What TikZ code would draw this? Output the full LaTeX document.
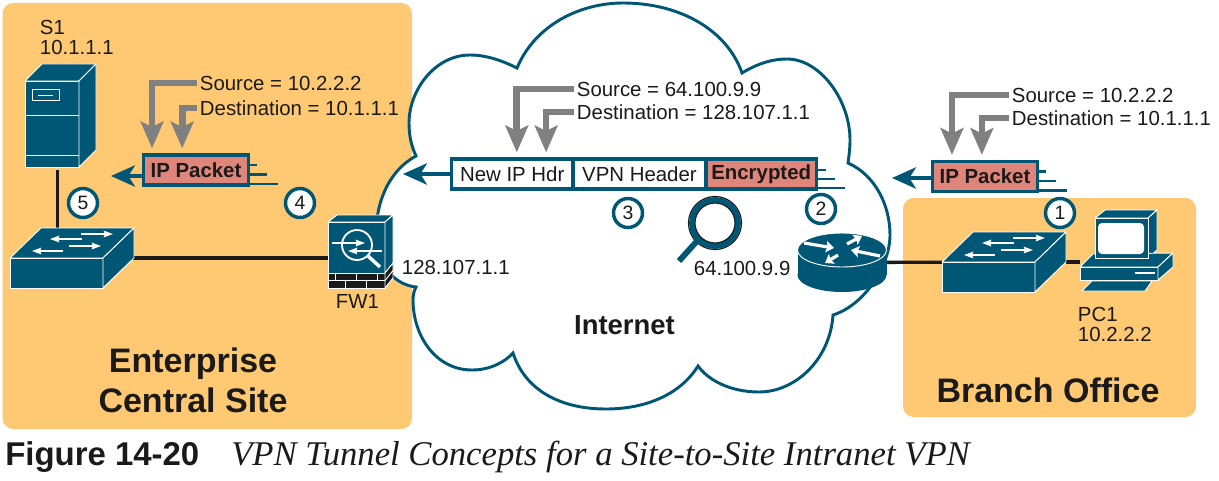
\documentclass[tikz,border=0pt]{standalone}
\usepackage{fontspec}
\setmainfont{Liberation Sans}
\newfontfamily\capfont{Liberation Serif}
\usepackage{tikz}
\usetikzlibrary{arrows.meta,positioning}
\definecolor{sitefill}{HTML}{FFC973}
\definecolor{devblue}{HTML}{005675}
\definecolor{pktred}{HTML}{DF8579}
\definecolor{ptrgray}{HTML}{808080}
\definecolor{ink}{HTML}{1A1A1A}
\tikzstyle{site}=[
	fill=sitefill,
	rounded corners=8pt]
\tikzstyle{device}=[
	rectangle,
	inner sep=0,
	outer sep=0]
\tikzstyle{face}=[
	fill=devblue,
	draw=white,
	line width=0.7pt,
	line join=round]
\tikzstyle{lbl}=[
	text=ink,
	inner sep=2pt,
	align=left,
	font=\fontsize{15.3}{15}\selectfont]
\tikzstyle{title}=[
	text=ink,
	inner sep=0,
	align=center,
	font=\bfseries\fontsize{25.5}{30}\selectfont]
\tikzstyle{cell}=[
	rectangle,
	draw=devblue,
	fill=white,
	line width=2.5pt,
	inner sep=0,
	outer sep=0,
	minimum height=22.5pt,
	text=ink,
	font=\fontsize{15.3}{15}\selectfont]
\tikzstyle{packet}=[
	cell,
	fill=pktred,
	font=\bfseries\fontsize{15.3}{15}\selectfont]
\tikzstyle{stepnum}=[
	circle,
	draw=devblue,
	fill=white,
	line width=2.6pt,
	inner sep=0,
	minimum size=21.75pt,
	text=ink,
	font=\fontsize{14.5}{14}\selectfont]
\tikzstyle{tail}=[
	draw=devblue,
	line width=2.1pt]
\tikzstyle{flow}=[
	draw=devblue,
	line width=2.4pt,
	-{Stealth[length=18pt,width=16pt,inset=5pt]}]
\tikzstyle{pointer}=[
	draw=ptrgray,
	line width=5pt,
	shorten >=5pt,
	-{Stealth[length=20pt,width=17pt,inset=4pt]}]
\tikzstyle{link}=[
	draw=ink,
	line width=2.5pt]
\tikzstyle{whitearrow}=[
	draw=white,
	line width=1.1pt,
	-{Stealth[length=7pt,width=5pt,inset=1pt]}]
\tikzstyle{fatarrow}=[
	draw=white,
	line width=2.4pt,
	-{Stealth[length=6pt,width=8.5pt,inset=1pt]}]
\tikzset{pics/switchicon/.style={code={
	\draw[face] (0,0) -- (31,-30) -- (124,-30) -- (93,0) -- cycle;
	\draw[face] (0,0) rectangle (93,30);
	\draw[face] (93,0) -- (124,-30) -- (124,0) -- (93,30) -- cycle;
	\draw[whitearrow] (72,-19) -- (40,-19);
	\draw[whitearrow] (71,-24) -- (103,-24);
	\draw[whitearrow] (59,-12) -- (91,-12);
	\draw[whitearrow] (53,-7) -- (22,-7);
}}}

\begin{document}
\begin{tikzpicture}[x=0.75pt,y=-0.75pt,>=latex]
	\useasboundingbox (0,0) rectangle (1219,481);
	\fill[site] (2.5,3) rectangle (412,429);
	\fill[site] (903,198) rectangle (1196,417);
	\draw[draw=devblue,fill=white,line width=2.2pt] (517,68)
		.. controls (535,25) and (580,3) .. (623,3)
		.. controls (680,3) and (727,30) .. (742,73)
		.. controls (760,62) and (775,59) .. (787,59)
		.. controls (820,59) and (850,100) .. (850,140)
		.. controls (850,148) and (849,156) .. (848,163)
		.. controls (875,175) and (890,205) .. (890,235)
		.. controls (890,265) and (865,305) .. (833,315)
		.. controls (830,360) and (795,392) .. (759,392)
		.. controls (730,392) and (708,380) .. (698,366)
		.. controls (680,395) and (645,409) .. (606,409)
		.. controls (560,409) and (525,390) .. (513,353)
		.. controls (505,362) and (490,370) .. (472,370)
		.. controls (435,370) and (413,335) .. (413,300)
		.. controls (413,295) and (414,291) .. (416,287)
		.. controls (395,285) and (376,265) .. (376,235)
		.. controls (376,200) and (390,170) .. (416,156)
		.. controls (411,145) and (409,135) .. (409,123)
		.. controls (409,90) and (435,55) .. (470,55)
		.. controls (488,55) and (505,62) .. (517,68) -- cycle;
	\node[device,minimum width=48.75pt,minimum height=79.5pt] (s1) at (57.5,117) {};
	\node[device,minimum width=92.25pt,minimum height=45pt] (sw1) at (71.5,258) {};
	\node[device,minimum width=48.75pt,minimum height=54.75pt] (fw1) at (360.5,251.5) {};
	\node[device,minimum width=67.5pt,minimum height=44.25pt] (router) at (842,262.5) {};
	\node[device,minimum width=93pt,minimum height=45pt] (sw2) at (1004,262) {};
	\node[device,minimum width=69.75pt,minimum height=60.75pt] (pc1) at (1126.5,250.5) {};
	\draw[link] (s1) -- (s1 |- sw1.north);
	\draw[link] (sw1) -- (sw1 -| fw1.west);
	\draw[link] (router) -- (sw2);
	\draw[link] (sw2) -- (sw2 -| pc1.west);
	\begin{scope}
		\draw[face] (25,81) -- (42,64) -- (96,64) -- (79,81) -- cycle;
		\draw[face] (25,81) rectangle (79,167);
		\draw[face] (79,81) -- (96,64) -- (96,150) -- (79,167) -- cycle;
		\draw[draw=white,line width=0.7pt] (25,115) -- (79,115);
		\draw[draw=white,line width=0.7pt] (25,155) -- (79,155);
		\draw[draw=white,line width=0.7pt] (32,89) rectangle (59,100);
		\draw[draw=white,line width=0.7pt] (38,95) -- (53,95);
	\end{scope}
	\pic at (10,258) {switchicon};
	\pic at (942,262) {switchicon};
	\begin{scope}
		\draw[face] (328,222) -- (337,215) -- (393,215) -- (385,222) -- cycle;
		\draw[face] (328,222) rectangle (385,273);
		\draw[face] (385,222) -- (393,215) -- (393,263) -- (385,273) -- cycle;
		\draw[fill=ink,draw=white,line width=0.7pt] (328,273) rectangle (385,288);
		\draw[fill=ink,draw=white,line width=0.7pt] (385,273) -- (393,263) -- (393,278) -- (385,288) -- cycle;
		\draw[draw=white,line width=0.7pt] (328,280.5) -- (385,280.5);
		\draw[draw=white,line width=0.7pt] (335,273) -- (335,280.5);
		\draw[draw=white,line width=0.7pt] (356,273) -- (356,280.5);
		\draw[draw=white,line width=0.7pt] (377,273) -- (377,280.5);
		\draw[draw=white,line width=0.7pt] (345,280.5) -- (345,288);
		\draw[draw=white,line width=0.7pt] (366,280.5) -- (366,288);
		\draw[draw=white,line width=0.7pt] (385,280.5) -- (393,270.5);
		\draw[draw=white,line width=1.4pt] (357,245) circle (15);
		\draw[draw=white,line width=2.6pt] (368,256) -- (380,267);
		\draw[whitearrow] (332,243) -- (365,243);
		\draw[whitearrow] (382,251) -- (348,251);
	\end{scope}
	\begin{scope}
		\fill[devblue] (797.5,250) rectangle (886.5,275);
		\fill[devblue] (842,275) ellipse (44.5 and 17);
		\draw[face] (842,250) ellipse (44.5 and 17);
		\draw[fatarrow] (804,243) -- (834,248);
		\draw[fatarrow] (847,244) -- (862,236);
		\draw[fatarrow] (880,256) -- (851,250);
		\draw[fatarrow] (838,255) -- (825,263);
	\end{scope}
	\begin{scope}
		\draw[face] (1095,218) -- (1105,210) -- (1157,210) -- (1148,218) -- cycle;
		\draw[face] (1148,218) -- (1157,210) -- (1157,250) -- (1148,258) -- cycle;
		\draw[face] (1080,267) -- (1093,254) -- (1173,253) -- (1158,267) -- cycle;
		\draw[face] (1080,267) rectangle (1158,280);
		\draw[face] (1158,267) -- (1173,253) -- (1173,267) -- (1158,280) -- cycle;
		\draw[face] (1095,218) rectangle (1148,258);
		\fill[white,rounded corners=3pt] (1098,223) rectangle (1144,254);
		\draw[draw=white,line width=1pt] (1135,273) -- (1155,273);
		\draw[face] (1082,291) -- (1092,281) -- (1152,281) -- (1145,291) -- cycle;
	\end{scope}
	\begin{scope}
		\draw[draw=ink,line width=0.9pt,fill=white] (715,223) circle (26.5);
		\draw[draw=devblue,line width=4.4pt] (715,223) circle (23);
		\draw[draw=ink,line width=0.8pt] (715,223) circle (20);
		\draw[draw=devblue,line width=4.4pt] (698,240) -- (679,261);
	\end{scope}
	\node[packet,minimum width=78.75pt] (pkt1) at (196,170) {IP Packet};
	\node[packet,minimum width=78.75pt] (pkt3) at (985,176.5) {IP Packet};
	\node[cell,minimum width=91.1pt] (newip) at (512.2,174) {New IP Hdr};
	\node[cell,minimum width=99.75pt] (vpn) [right=0pt of newip] {VPN Header};
	\node[packet,minimum width=82.9pt] (enc) [right=0pt of vpn] {Encrypted};
	\draw[tail] (pkt1.east) ++(0,-5) -- ++(8,0);
	\draw[tail] (pkt1.east) ++(0,4.5) -- ++(18,0);
	\draw[tail] (pkt1.east) ++(0,14) -- ++(29,0);
	\draw[tail] (enc.east) ++(0,-4) -- ++(10,0);
	\draw[tail] (enc.east) ++(0,5) -- ++(19,0);
	\draw[tail] (enc.east) ++(0,14) -- ++(29,0);
	\draw[tail] (pkt3.east) ++(0,-5) -- ++(8,0);
	\draw[tail] (pkt3.east) ++(0,4.5) -- ++(18,0);
	\draw[tail] (pkt3.east) ++(0,14) -- ++(29,0);
	\coordinate (out1) at (111,176);
	\coordinate (out2) at (403,174);
	\coordinate (out3) at (892,178);
	\draw[flow] (out1 -| pkt1.west) -- (out1);
	\draw[flow] (out2 -| newip.west) -- (out2);
	\draw[flow] (out3 -| pkt3.west) -- (out3);
	\node[lbl,anchor=west] (src1) at (197,83) {Source = 10.2.2.2};
	\node[lbl,anchor=west] (dst1) at (197,108) {Destination = 10.1.1.1};
	\node[lbl,anchor=west] (src2) at (574,89) {Source = 64.100.9.9};
	\node[lbl,anchor=west] (dst2) at (574,112) {Destination = 128.107.1.1};
	\node[lbl,anchor=west] (src3) at (1009,95) {Source = 10.2.2.2};
	\node[lbl,anchor=west] (dst3) at (1009,118) {Destination = 10.1.1.1};
	\draw[pointer] (src1.west) -| ([xshift=6.4pt]pkt1.north west);
	\draw[pointer] (dst1.west) -| ([xshift=29pt]pkt1.north west);
	\draw[pointer] (src2.west) -| ([xshift=49pt]newip.north west);
	\draw[pointer] (dst2.west) -| ([xshift=71pt]newip.north west);
	\draw[pointer] (src3.west) -| ([xshift=14.6pt]pkt3.north west);
	\draw[pointer] (dst3.west) -| ([xshift=37pt]pkt3.north west);
	\node[stepnum] (n1) at (1060,213) {1};
	\node[stepnum] (n2) at (821,209) {2};
	\node[stepnum] (n3) at (628,213) {3};
	\node[stepnum] (n4) at (300,203) {4};
	\node[stepnum] (n5) at (83,203) {5};
	\node[lbl,anchor=west] (s1txt) at (37,37) {S1\\10.1.1.1};
	\node[lbl,anchor=west] (fw1txt) at (333,301) {FW1};
	\node[lbl,anchor=west] (fw1ip) at (399,267) {128.107.1.1};
	\node[lbl,anchor=west] (routerip) at (691,268) {64.100.9.9};
	\node[lbl,anchor=west] (pc1txt) at (1075,324) {PC1\\10.2.2.2};
	\node[title,font=\bfseries\fontsize{20.6}{24}\selectfont] (inet) at (624.5,325) {Internet};
	\node[title] (central) at (193,380) {Enterprise\\Central Site};
	\node[title] (branch) at (1048,390) {Branch Office};
	\node[anchor=west,inner sep=0,text=ink,font=\bfseries\fontsize{24.7}{24}\selectfont] (figno) at (5,457) {Figure 14-20};
	\node[anchor=west,inner sep=0,text=ink,font=\capfont\itshape\fontsize{26}{24}\selectfont] (figcap) at (231,457) {VPN Tunnel Concepts for a Site-to-Site Intranet VPN};
\end{tikzpicture}
\end{document}
